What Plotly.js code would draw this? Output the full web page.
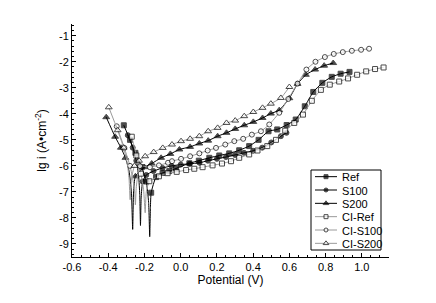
<!DOCTYPE html>
<html>
<head>
<meta charset="utf-8">
<script src="https://cdn.plot.ly/plotly-3.0.1.min.js"></script>
<style>html,body{margin:0;padding:0;background:#fff;}#chart{width:436px;height:303px;}</style>
</head>
<body>
<div id="chart"></div>
<script>
// Series names
const seriesNames = ["Ref", "S100", "S200", "CI-Ref", "CI-S100", "CI-S200"];

// Ref: marked points and unmarked spike points (corrosion potential)
const refX = [-0.314,-0.28,-0.25,-0.215,-0.19,-0.163,-0.136,-0.10,-0.063,-0.026,0.048,0.10,0.158,0.213,0.268,0.323,0.378,0.43,0.485,0.533,0.585,0.635,0.685,0.732,0.782,0.834,0.883,0.932];
const refY = [-4.44,-5.0,-5.5,-6.05,-6.6,-7.03,-6.43,-6.27,-6.2,-6.1,-5.9,-5.8,-5.69,-5.6,-5.52,-5.4,-5.24,-5.0,-4.67,-4.6,-4.43,-4.22,-3.71,-3.16,-2.81,-2.58,-2.46,-2.39];
const refSpikeX = [-0.177,-0.171,-0.167];
const refSpikeY = [-7.4,-8.72,-7.6];

// S100
const s100X = [-0.292,-0.265,-0.245,-0.21,-0.19,-0.15,-0.10,-0.05,0.0,0.05,0.104,0.15,0.2,0.25,0.3,0.35,0.4,0.45,0.5,0.553,0.584];
const s100Y = [-4.82,-5.3,-5.8,-6.6,-6.35,-6.2,-6.08,-6.0,-5.95,-5.92,-5.88,-5.8,-5.73,-5.66,-5.58,-5.5,-5.42,-5.3,-5.1,-4.86,-4.73];
const s100SpikeX = [-0.232,-0.226,-0.222,-0.218];
const s100SpikeY = [-6.4,-7.1,-8.29,-7.2];

// S200
const s200X = [-0.411,-0.362,-0.33,-0.305,-0.25,-0.2,-0.16,-0.108,-0.057,-0.007,0.052,0.103,0.152,0.204,0.253,0.301,0.351,0.401,0.452,0.498,0.544,0.6,0.645,0.691,0.742,0.792,0.842];
const s200Y = [-4.13,-4.88,-5.3,-5.69,-6.4,-6.05,-5.91,-5.69,-5.54,-5.37,-5.27,-5.14,-5.03,-4.86,-4.73,-4.58,-4.44,-4.31,-4.16,-3.99,-3.86,-3.4,-2.85,-2.5,-2.3,-2.15,-2.05];
const s200SpikeX = [-0.285,-0.272,-0.265,-0.26];
const s200SpikeY = [-6.2,-7.0,-8.44,-7.0];

// Cl-Ref
const clRefX = [-0.270,-0.245,-0.22,-0.173,-0.12,-0.072,-0.022,0.03,0.075,0.121,0.176,0.228,0.278,0.323,0.378,0.424,0.478,0.526,0.577,0.627,0.675,0.724,0.774,0.823,0.875,0.924,0.974,1.024,1.073,1.12];
const clRefY = [-4.88,-5.6,-6.3,-6.59,-6.4,-6.28,-6.23,-6.16,-6.11,-6.05,-5.98,-5.91,-5.82,-5.69,-5.56,-5.41,-5.24,-5.0,-4.65,-4.35,-4.03,-3.5,-3.08,-2.88,-2.76,-2.64,-2.5,-2.37,-2.28,-2.22];
const clRefSpikeX = [-0.205,-0.196,-0.19];
const clRefSpikeY = [-6.9,-7.8,-7.0];

// Cl-S100
const clS100X = [-0.353,-0.311,-0.28,-0.224,-0.17,-0.12,-0.07,-0.048,0.002,0.052,0.103,0.149,0.195,0.246,0.296,0.345,0.393,0.443,0.489,0.544,0.594,0.645,0.694,0.744,0.796,0.845,0.895,0.945,0.996,1.04];
const clS100Y = [-4.48,-5.31,-6.0,-6.01,-6.05,-5.98,-5.88,-5.82,-5.73,-5.63,-5.52,-5.41,-5.31,-5.18,-5.05,-4.96,-4.8,-4.67,-4.41,-3.96,-3.43,-2.84,-2.3,-2.0,-1.82,-1.7,-1.63,-1.58,-1.54,-1.5];
const clS100SpikeX = [-0.262,-0.254,-0.25,-0.245];
const clS100SpikeY = [-6.6,-7.0,-7.5,-6.8];

// Cl-S200
const clS200X = [-0.397,-0.348,-0.315,-0.255,-0.23,-0.196,-0.149,-0.099,-0.048,0.002,0.052,0.103,0.152,0.204,0.253,0.301,0.351,0.401,0.452,0.498,0.553,0.6];
const clS200Y = [-3.75,-4.63,-5.3,-6.0,-5.8,-5.63,-5.47,-5.31,-5.18,-5.05,-4.96,-4.86,-4.67,-4.54,-4.35,-4.26,-4.09,-3.93,-3.77,-3.61,-3.39,-2.97];
const clS200SpikeX = [-0.295,-0.285,-0.279,-0.272];
const clS200SpikeY = [-5.9,-6.5,-7.3,-6.5];

// Axis ticks
const xTickVals = [-0.6,-0.4,-0.2,0.0,0.2,0.4,0.6,0.8,1.0];
const xTickText = ["-0.6","-0.4","-0.2","0.0","0.2","0.4","0.6","0.8","1.0"];
const yTickVals = [-9,-8,-7,-6,-5,-4,-3,-2,-1];
const yTickText = ["-9","-8","-7","-6","-5","-4","-3","-2","-1"];

function merge(mx, my, sx, sy, size) {
  const pts = [];
  mx.forEach((x, i) => pts.push({x: x, y: my[i], s: size}));
  sx.forEach((x, i) => pts.push({x: x, y: sy[i], s: 0}));
  pts.sort((a, b) => a.x - b.x);
  return {x: pts.map(p => p.x), y: pts.map(p => p.y), s: pts.map(p => p.s)};
}

const defs = [
  [refX, refY, refSpikeX, refSpikeY, 'square', true],
  [s100X, s100Y, s100SpikeX, s100SpikeY, 'circle', true],
  [s200X, s200Y, s200SpikeX, s200SpikeY, 'triangle-up', true],
  [clRefX, clRefY, clRefSpikeX, clRefSpikeY, 'square', false],
  [clS100X, clS100Y, clS100SpikeX, clS100SpikeY, 'circle', false],
  [clS200X, clS200Y, clS200SpikeX, clS200SpikeY, 'triangle-up', false]
];

function style(d) {
  return {
    size: d[4] === 'triangle-up' ? 6 : 5,
    lineColor: d[5] ? '#000000' : '#9a9a9a',
    fill: d[5] ? '#000000' : '#ffffff'
  };
}

const traces = defs.map((d, i) => {
  const st = style(d);
  const m = merge(d[0], d[1], d[2], d[3], st.size);
  return {
    type: 'scatter', mode: 'lines+markers', name: seriesNames[i], showlegend: false,
    x: m.x, y: m.y,
    line: {color: st.lineColor, width: 1, shape: 'spline', smoothing: 0.5},
    marker: {symbol: d[4], size: m.s, color: st.fill, line: {color: '#000000', width: 1}}
  };
});

// Custom legend drawn on an overlay axis whose units are page pixels
const PL = 72, PR = 389, PT = 24, PB = 257;
const legLeft = 311, legRight = 381, legTop = 170, legBottom = 250;
const rowH = (legBottom - legTop) / seriesNames.length;
traces.push({
  type: 'scatter', mode: 'lines', xaxis: 'x2', yaxis: 'y2', showlegend: false,
  x: [legLeft, legRight, legRight, legLeft, legLeft],
  y: [legTop, legTop, legBottom, legBottom, legTop],
  fill: 'toself', fillcolor: '#ffffff', line: {color: '#000', width: 1}
});
const annotations = [];
defs.forEach((d, i) => {
  const st = style(d);
  const yc = legTop + rowH * (i + 0.5);
  traces.push({
    type: 'scatter', mode: 'lines+markers', xaxis: 'x2', yaxis: 'y2', showlegend: false,
    x: [315, 326, 337], y: [yc, yc, yc],
    line: {color: st.lineColor, width: 1},
    marker: {symbol: d[4], size: [0, st.size - 1, 0], color: st.fill, line: {color: '#000', width: 1}}
  });
  annotations.push({
    xref: 'x2', yref: 'y2', x: 340, y: yc + 0.5, xanchor: 'left', yanchor: 'middle',
    text: seriesNames[i], showarrow: false,
    font: {family: 'Liberation Sans, Arial, sans-serif', size: 11, color: '#000'}
  });
});

const font = {family: 'Liberation Sans, Arial, sans-serif', size: 11, color: '#000'};

const layout = {
  width: 436, height: 303,
  margin: {l: PL, r: 436 - PR, t: PT, b: 303 - PB, pad: 0},
  paper_bgcolor: '#fff', plot_bgcolor: '#fff',
  font: font,
  showlegend: false,
  annotations: annotations,
  xaxis: {
    range: [-0.6, 1.15], showgrid: false, zeroline: false,
    showline: true, linecolor: '#000', linewidth: 1,
    ticks: 'inside', ticklen: 4, tickcolor: '#000',
    tickmode: 'array', tickvals: xTickVals, ticktext: xTickText,
    minor: {ticks: 'inside', ticklen: 2, dtick: 0.05, tick0: 0, tickcolor: '#000', showgrid: false},
    title: {text: 'Potential (V)', font: {family: font.family, size: 12, color: '#000'}, standoff: 1}
  },
  yaxis: {
    range: [-9.5, -0.55], showgrid: false, zeroline: false,
    showline: true, linecolor: '#000', linewidth: 1,
    ticks: 'inside', ticklen: 4, tickcolor: '#000',
    tickmode: 'array', tickvals: yTickVals, ticktext: yTickText,
    minor: {ticks: 'inside', ticklen: 2, dtick: 0.2, tick0: 0, tickcolor: '#000', showgrid: false},
    title: {text: 'lg i (A•cm<sup>-2</sup>)', font: {family: font.family, size: 12, color: '#000'}, standoff: 9}
  },
  xaxis2: {overlaying: 'x', range: [PL, PR], visible: false, fixedrange: true},
  yaxis2: {overlaying: 'y', range: [PB, PT], visible: false, fixedrange: true}
};

Plotly.newPlot('chart', traces, layout, {staticPlot: true, displayModeBar: false});
</script>
</body>
</html>
